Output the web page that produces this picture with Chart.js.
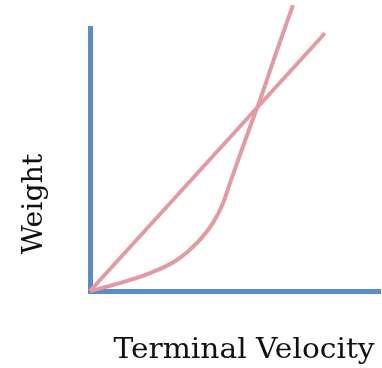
<!DOCTYPE html>
<html>
<head>
<meta charset="utf-8">
<script src="https://cdn.jsdelivr.net/npm/chart.js@4.4.1/dist/chart.umd.min.js"></script>
<style>
  html, body { margin: 0; padding: 0; background: #fff; }
  #wrap { width: 382px; height: 368px; }
</style>
</head>
<body>
<div id="wrap"><canvas id="grafico" width="382" height="368"></canvas></div>
<script>
// values (arbitrary units, 0..100 on both axes)
const xTitle = 'Terminal Velocity';
const yTitle = 'Weight';

const linearX = [0, 81];
const linearY = [0, 98];

const curveX = [0, 11.4, 20.7, 30, 36.9, 42.4, 45.9, 48.3, 51.7, 55.2, 58.6, 64, 70];
const curveY = [0, 3.4, 6.8, 11.8, 18.3, 25.9, 33.5, 41.1, 51.7, 62.4, 72.6, 90, 108.7];

const pink = '#e49aa3';
const blue = '#5b8bc8';

function toPoints(xs, ys) {
  return xs.map((x, i) => ({ x: x, y: ys[i] }));
}

// axis captions, placed where the picture has them
const axisCaptions = {
  id: 'axisCaptions',
  afterDraw(chart) {
    const ctx = chart.ctx;
    ctx.save();
    ctx.fillStyle = '#111';
    ctx.font = '27px "DejaVu Serif"';
    ctx.textAlign = 'center';
    ctx.textBaseline = 'alphabetic';

    ctx.save();
    ctx.translate(244, 358);
    ctx.scale(1.1, 1);
    ctx.fillText(xTitle, 0, 0);
    ctx.restore();

    ctx.save();
    ctx.translate(42, 204);
    ctx.rotate(-Math.PI / 2);
    ctx.scale(1.05, 1);
    ctx.fillText(yTitle, 0, 0);
    ctx.restore();

    ctx.restore();
  }
};

const data = {
  datasets: [
    {
      label: 'linear',
      data: toPoints(linearX, linearY),
      borderColor: pink,
      borderWidth: 4,
      pointRadius: 0,
      tension: 0,
      clip: false
    },
    {
      label: 'curve',
      data: toPoints(curveX, curveY),
      borderColor: pink,
      borderWidth: 4,
      pointRadius: 0,
      cubicInterpolationMode: 'monotone',
      clip: false
    }
  ]
};

const config = {
  type: 'scatter',
  data,
  options: {
    responsive: false,
    animation: false,
    showLine: true,
    layout: { padding: { top: 28, right: 2, left: 90, bottom: 77 } },
    plugins: { legend: { display: false }, tooltip: { enabled: false } },
    scales: {
      x: {
        min: 0, max: 100,
        grid: { display: false, drawTicks: false },
        ticks: { display: false },
        border: { display: true, color: blue, width: 5 }
      },
      y: {
        min: 0, max: 100,
        grid: { display: false, drawTicks: false },
        ticks: { display: false },
        border: { display: true, color: blue, width: 5 }
      }
    }
  },
  plugins: [axisCaptions]
};

const myChart = new Chart(document.getElementById('grafico'), config);
</script>
</body>
</html>
